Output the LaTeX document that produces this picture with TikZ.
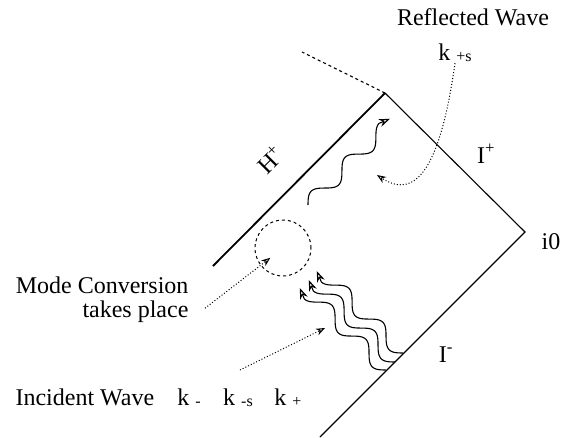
\documentclass[tikz,border=0pt]{standalone}
\usepackage{fontspec}
\setmainfont{Liberation Serif}
\usetikzlibrary{arrows.meta}
\newcommand{\lowidx}[1]{\raisebox{-1.5pt}{\fontsize{16}{16}\selectfont #1}}

\begin{document}
\begin{tikzpicture}[x=1pt,y=-1pt,line width=1.1pt,
	every node/.style={font=\fontsize{24}{24}\selectfont,inner sep=1pt},
	wave/.style={-{Stealth[open,length=11pt,width=8pt]}},
	pointer/.style={dotted,line width=1pt,-{Stealth[open,length=9pt,width=7pt]}}]
	\useasboundingbox (0,0) rectangle (573,437);
	% corners
	\coordinate (top) at (385,93);
	\coordinate (io) at (525,232);
	\coordinate (bot) at (320,437);
	\coordinate (hend) at (213,266);
	\coordinate (dend) at (302,52);
	\draw (bot) -- (io) -- (top);
	\draw[line width=1.8pt] (top) -- (hend);
	\draw[dashed] (top) -- (dend);
	% labels
	\node[anchor=base] (refl) at (473,25) {Reflected Wave};
	\node[anchor=base] (kps) at (455,60) {k \lowidx{+s}};
	\node[anchor=base] (iplus) at (486,163) {I\textsuperscript{+}};
	\node[anchor=base] (izero) at (551,249) {i0};
	\node[anchor=base] (iminus) at (446,362) {I\textsuperscript{-}};
	\node[rotate=45] (hplus) at (270,160) {H\kern-1pt\textsuperscript{+}};
	\node[align=right,anchor=base east] (mode) at (190,317) {Mode Conversion\\takes place};
	\node[anchor=base west] (inc) at (14,405) {Incident Wave};
	\node[anchor=base] (km) at (189,405) {k \lowidx{-}};
	\node[anchor=base] (ks) at (238,405) {k \lowidx{-s}};
	\node[anchor=base] (kp) at (288,405) {k \lowidx{+}};
	% conversion region
	\node[circle,draw,dashed,line width=1pt,minimum size=56pt,inner sep=0pt] (conv) at (283,248) {};
	% waves
	\coordinate (in1) at (403,353);
	\coordinate (in2) at (395,362);
	\coordinate (in3) at (386,370);
	\coordinate (rs) at (308,205);
	\foreach \p in {in1,in2,in3}
		\draw[wave,shift={(\p)},rotate=135] plot[domain=0:108,samples=70,smooth] (\x,{-7.5*sin(\x*7.5)}) -- (119,-3);
	\draw[wave,shift={(rs)},rotate=45] plot[domain=0:108,samples=70,smooth] (\x,{-7.5*sin(\x*7.5)}) -- (119,-3);
	% pointers
	\coordinate (incfrom) at (240,370);
	\coordinate (incto) at (325,328);
	\coordinate (refto) at (377,175);
	\draw[pointer,shorten >=16pt] ([xshift=15pt,yshift=-9pt]mode.east) -- (conv.center);
	\draw[pointer] (incfrom) -- (incto);
	\draw[pointer] (kps.south) .. controls (440,170) and (415,200) .. (refto);
\end{tikzpicture}
\end{document}
